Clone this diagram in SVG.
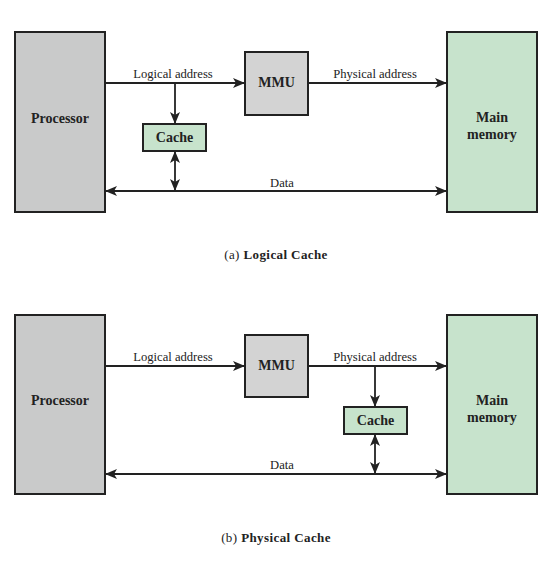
<svg xmlns="http://www.w3.org/2000/svg" width="554" height="567" viewBox="0 0 554 567">
<defs>
<style>
.box{stroke:#222;stroke-width:2}
.gray{fill:#c9caca}
.mmu{fill:#d3d3d3}
.green{fill:#c7e3cc}
.lbl{font-family:"Liberation Serif","Times New Roman",serif;font-weight:bold;font-size:14px;fill:#222;text-anchor:middle}
.elbl{font-family:"Liberation Serif","Times New Roman",serif;font-size:12.6px;fill:#222;text-anchor:middle}
.cap{font-family:"Liberation Serif","Times New Roman",serif;font-size:13px;fill:#222;text-anchor:middle;letter-spacing:0.4px}
.ln{stroke:#222;stroke-width:1.8;fill:none}
</style>
<marker id="ah" viewBox="0 0 12 10" refX="11" refY="5" markerWidth="12" markerHeight="10" markerUnits="userSpaceOnUse" orient="auto-start-reverse">
<path d="M0,0 L12,5 L0,10 L3,5 z" fill="#222"/>
</marker>
</defs>

<!-- (a) Logical Cache -->
<g id="a-processor"><rect class="box gray" x="15" y="32" width="90" height="180"/><text class="lbl" x="60" y="123">Processor</text></g>
<g id="a-mmu"><rect class="box mmu" x="245" y="52" width="63" height="63"/><text class="lbl" x="276.5" y="87">MMU</text></g>
<g id="a-cache"><rect class="box green" x="143" y="124" width="63" height="27"/><text class="lbl" x="174.5" y="142">Cache</text></g>
<g id="a-memory"><rect class="box green" x="447" y="32" width="90" height="180"/><text class="lbl" x="492" y="122">Main</text><text class="lbl" x="492" y="139">memory</text></g>
<g id="a-connectors">
<line class="ln" x1="105" y1="83" x2="244" y2="83" marker-end="url(#ah)"/>
<line class="ln" x1="175" y1="83" x2="175" y2="123" marker-end="url(#ah)"/>
<line class="ln" x1="308" y1="83" x2="446" y2="83" marker-end="url(#ah)"/>
<line class="ln" x1="175" y1="152" x2="175" y2="190" marker-start="url(#ah)" marker-end="url(#ah)"/>
<line class="ln" x1="106" y1="191" x2="446" y2="191" marker-start="url(#ah)" marker-end="url(#ah)"/>
<text class="elbl" x="173" y="78">Logical address</text>
<text class="elbl" x="375" y="78">Physical address</text>
<text class="elbl" x="282" y="187">Data</text>
</g>
<text class="cap" x="276" y="259">(a) <tspan font-weight="bold">Logical Cache</tspan></text>

<!-- (b) Physical Cache -->
<g id="b-processor"><rect class="box gray" x="15" y="315" width="90" height="179"/><text class="lbl" x="60" y="405">Processor</text></g>
<g id="b-mmu"><rect class="box mmu" x="245" y="335" width="63" height="62"/><text class="lbl" x="276.5" y="370">MMU</text></g>
<g id="b-cache"><rect class="box green" x="344" y="407" width="63" height="27"/><text class="lbl" x="375.5" y="425">Cache</text></g>
<g id="b-memory"><rect class="box green" x="447" y="315" width="90" height="179"/><text class="lbl" x="492" y="405">Main</text><text class="lbl" x="492" y="422">memory</text></g>
<g id="b-connectors">
<line class="ln" x1="105" y1="366" x2="244" y2="366" marker-end="url(#ah)"/>
<line class="ln" x1="308" y1="366" x2="446" y2="366" marker-end="url(#ah)"/>
<line class="ln" x1="375" y1="366" x2="375" y2="406" marker-end="url(#ah)"/>
<line class="ln" x1="375" y1="435" x2="375" y2="473" marker-start="url(#ah)" marker-end="url(#ah)"/>
<line class="ln" x1="106" y1="474" x2="446" y2="474" marker-start="url(#ah)" marker-end="url(#ah)"/>
<text class="elbl" x="173" y="361">Logical address</text>
<text class="elbl" x="375" y="361">Physical address</text>
<text class="elbl" x="282" y="469">Data</text>
</g>
<text class="cap" x="276" y="542">(b) <tspan font-weight="bold">Physical Cache</tspan></text>
</svg>
